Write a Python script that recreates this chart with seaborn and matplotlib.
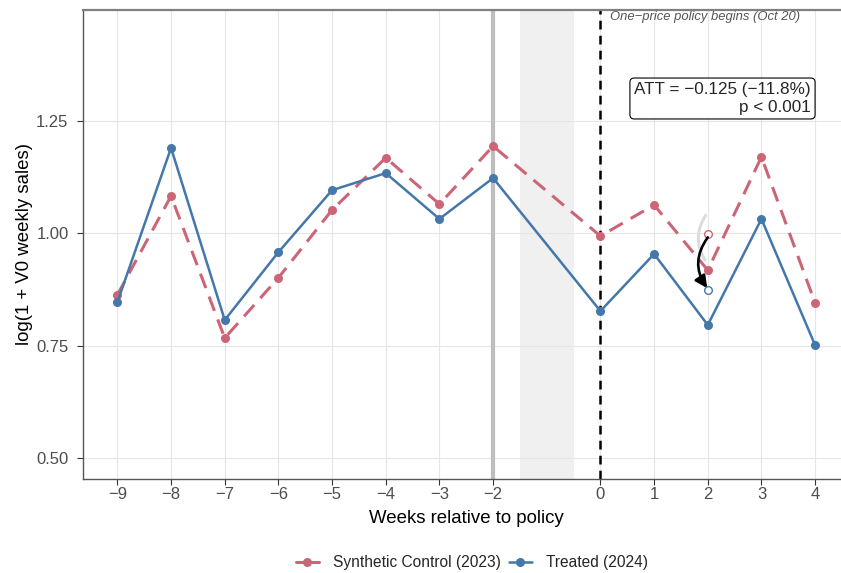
import numpy as np
import pandas as pd
import seaborn as sns
import matplotlib
matplotlib.use("Agg")
import matplotlib.pyplot as plt
from matplotlib.lines import Line2D

# data
weeks = [-9, -8, -7, -6, -5, -4, -3, -2, 0, 1, 2, 3, 4]
synthetic = [0.863, 1.083, 0.767, 0.901, 1.052, 1.168, 1.065, 1.194, 0.994, 1.063, 0.918, 1.170, 0.845]
treated = [0.847, 1.190, 0.807, 0.958, 1.096, 1.134, 1.032, 1.123, 0.827, 0.954, 0.796, 1.032, 0.751]
xticks = [-9, -8, -7, -6, -5, -4, -3, -2, 0, 1, 2, 3, 4]
yticks = [0.50, 0.75, 1.00, 1.25]
highlight_week = 2
highlight_from = 0.999
highlight_to = 0.874

red = "#CC6677"
blue = "#4477AA"

df = pd.DataFrame({"week": weeks, "synthetic": synthetic, "treated": treated})

sns.set_theme(style="whitegrid")
plt.rcParams["font.family"] = ["Liberation Sans", "DejaVu Sans"]
plt.rcParams["axes.unicode_minus"] = True

fig = plt.figure(figsize=(8.41, 5.73), dpi=100)
ax = fig.add_axes([0.0981, 0.1646, 0.9126, 0.818])

# reference markers
ax.axvspan(-1.5, -0.5, color="#f0f0f0", zorder=0.5, lw=0)
ax.axvline(-2, color="#bebebe", lw=3, zorder=0.8)
ax.axvline(0, color="black", lw=1.8, ls=(0, (3.5, 2.5)), zorder=0.9)

sns.lineplot(data=df, x="week", y="synthetic", ax=ax, color=red, lw=2.2,
             marker="o", markersize=6.5, markeredgewidth=0, zorder=3)
ax.lines[-1].set_dashes([5, 3])
sns.lineplot(data=df, x="week", y="treated", ax=ax, color=blue, lw=1.8,
             marker="o", markersize=6.5, markeredgewidth=0, zorder=4)

# counterfactual gap arrow at week 2
ax.annotate("", xy=(highlight_week - 0.02, 0.935), xytext=(highlight_week - 0.01, 1.045),
            arrowprops=dict(arrowstyle="-", color="#dcdcdc", lw=2.2,
                            connectionstyle="arc3,rad=0.35"), zorder=2)
ax.annotate("", xy=(highlight_week - 0.01, highlight_to + 0.004),
            xytext=(highlight_week, highlight_from - 0.008),
            arrowprops=dict(arrowstyle="-|>,head_length=0.6,head_width=0.3", color="black", lw=1.9,
                            connectionstyle="arc3,rad=0.35", shrinkA=0, shrinkB=0), zorder=6)
ax.plot([highlight_week], [highlight_from], "o", mfc="white", mec=red, ms=5.5, mew=1, zorder=5)
ax.plot([highlight_week], [highlight_to], "o", mfc="white", mec=blue, ms=5.5, mew=1, zorder=7)

ax.text(0.17, 1.481, "One\u2212price policy begins (Oct 20)", fontsize=9.4, style="italic",
        color="#555555", ha="left", va="center")
ax.text(3.92, 1.30, "ATT = \u22120.125 (\u221211.8%)\np < 0.001", fontsize=12.3, ha="right",
        va="center", multialignment="right", linespacing=1.2,
        bbox=dict(boxstyle="round,pad=0.25,rounding_size=0.25", fc="white", ec="black", lw=0.8),
        zorder=7)

ax.set_xlim(-9.65, 4.65)
ax.set_ylim(0.454, 1.497)
ax.set_xticks(xticks)
ax.set_xticklabels([str(t).replace("-", "\u2212") for t in xticks])
ax.set_yticks(yticks)
ax.set_yticklabels([f"{v:.2f}" for v in yticks])
ax.tick_params(axis="both", labelsize=12, labelcolor="#4d4d4d", length=4, width=0.8,
               color="#333333", bottom=True, left=True)
ax.tick_params(axis="y", pad=6)
ax.tick_params(axis="x", pad=2)
ax.grid(True, color="#e6e6e6", lw=0.8)
ax.set_xlabel("Weeks relative to policy", fontsize=13.4, color="black", labelpad=6)
ax.set_ylabel("log(1 + V0 weekly sales)", fontsize=13.4, color="black", labelpad=2)

for side in ["left", "bottom"]:
    ax.spines[side].set_color("#555555")
    ax.spines[side].set_linewidth(1.0)
ax.spines["top"].set_color("#808080")
ax.spines["top"].set_linewidth(1.6)
ax.spines["right"].set_visible(False)

handles = [
    Line2D([0], [0], color=red, lw=2.2, marker="o", markersize=6.5, mew=0),
    Line2D([0], [0], color=blue, lw=1.8, marker="o", markersize=6.5, mew=0),
]
fig.legend(handles, ["Synthetic Control (2023)", "Treated (2024)"], loc="center",
           bbox_to_anchor=(0.561, 0.018), ncol=2, frameon=False, fontsize=11.2,
           handlelength=1.5, columnspacing=0.5, handletextpad=0.9)

fig.savefig("out.png", dpi=100)
